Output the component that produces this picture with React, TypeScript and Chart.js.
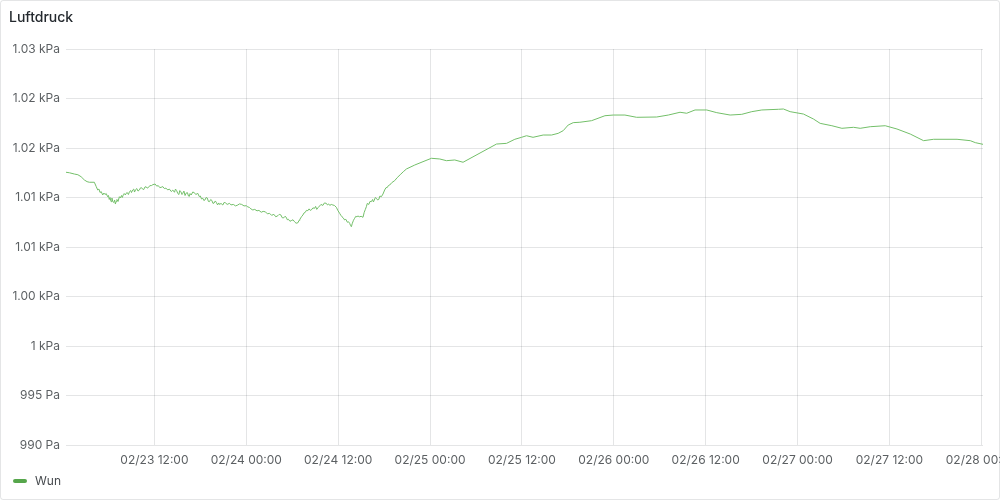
import React, { useEffect, useRef } from "react";
import { Chart, registerables } from "chart.js";

Chart.register(...registerables);

// [hours since 02/23 00:00, pressure in hPa]
const readings: [number, number][] = [
  [0.45, 1017.55], [0.9, 1017.5], [1.54, 1017.37], [2.0, 1017.3], [2.42, 1017.1], [2.85, 1016.77], [3.2, 1016.6], [3.5, 1016.54],
  [4.15, 1016.54], [4.4, 1016.1], [4.59, 1015.76], [4.75, 1015.85], [4.9, 1015.5], [5.05, 1015.6], [5.24, 1015.25], [5.4, 1015.45],
  [5.55, 1015.3], [5.7, 1015.4], [5.89, 1015.08], [6.0, 1015.2], [6.1, 1014.8], [6.2, 1015.0], [6.34, 1014.58], [6.45, 1014.95],
  [6.55, 1014.6], [6.7, 1014.5], [6.8, 1014.75], [6.9, 1014.34], [7.0, 1014.6], [7.1, 1014.8], [7.25, 1014.6], [7.42, 1015.08],
  [7.55, 1014.95], [7.7, 1015.2], [7.8, 1015.0], [7.95, 1015.3], [8.05, 1015.4], [8.2, 1015.25], [8.3, 1015.42], [8.45, 1015.5],
  [8.6, 1015.3], [8.75, 1015.6], [8.9, 1015.7], [9.0, 1015.5], [9.16, 1015.76], [9.3, 1015.85], [9.4, 1015.55], [9.55, 1015.8],
  [9.7, 1015.9], [9.85, 1015.65], [10.04, 1015.76], [10.15, 1015.95], [10.3, 1016.0], [10.45, 1015.85], [10.6, 1015.8], [10.75, 1016.05],
  [10.91, 1016.09], [11.05, 1015.95], [11.2, 1016.0], [11.4, 1016.2], [11.6, 1016.2], [11.8, 1016.3], [12.09, 1016.36], [12.3, 1016.15],
  [12.5, 1016.2], [12.7, 1016.0], [12.88, 1016.03], [13.1, 1016.1], [13.3, 1015.9], [13.5, 1015.95], [13.74, 1015.76], [13.95, 1015.85],
  [14.2, 1015.6], [14.4, 1015.75], [14.62, 1015.53], [14.75, 1015.85], [14.9, 1015.7], [15.05, 1015.4], [15.2, 1015.3], [15.3, 1015.7],
  [15.45, 1015.6], [15.6, 1015.3], [15.7, 1015.42], [15.85, 1015.65], [16.0, 1015.2], [16.15, 1015.45], [16.3, 1015.5], [16.45, 1015.15],
  [16.55, 1015.1], [16.65, 1015.4], [16.8, 1015.25], [17.0, 1015.55], [17.2, 1015.5], [17.4, 1015.3], [17.66, 1015.42], [17.85, 1015.1],
  [18.0, 1015.15], [18.15, 1014.85], [18.32, 1014.92], [18.45, 1014.7], [18.6, 1014.75], [18.75, 1015.0], [18.9, 1014.95], [19.05, 1014.6],
  [19.19, 1014.58], [19.35, 1014.8], [19.5, 1014.7], [19.65, 1014.4], [19.8, 1014.45], [19.95, 1014.65], [20.07, 1014.52], [20.25, 1014.25],
  [20.4, 1014.45], [20.5, 1014.3], [20.7, 1014.4], [20.93, 1014.24], [21.1, 1014.5], [21.3, 1014.45], [21.5, 1014.3], [21.81, 1014.41],
  [22.0, 1014.25], [22.3, 1014.3], [22.6, 1014.15], [22.89, 1014.24], [23.1, 1014.35], [23.4, 1014.3], [23.7, 1014.15], [23.99, 1014.17],
  [24.2, 1014.05], [24.4, 1014.0], [24.6, 1013.85], [24.85, 1013.74], [25.1, 1013.8], [25.4, 1013.65], [25.65, 1013.7], [25.95, 1013.51],
  [26.2, 1013.6], [26.5, 1013.55], [26.75, 1013.35], [27.04, 1013.4], [27.3, 1013.2], [27.6, 1013.3], [27.85, 1013.05], [28.12, 1013.16],
  [28.3, 1013.3], [28.5, 1013.25], [28.7, 1012.95], [28.9, 1012.95], [29.05, 1013.1], [29.22, 1013.0], [29.35, 1012.75], [29.5, 1012.8],
  [29.7, 1012.6], [29.87, 1012.66], [30.1, 1012.75], [30.3, 1012.55], [30.5, 1012.4], [30.74, 1012.45], [30.9, 1012.7], [31.0, 1012.8],
  [31.2, 1013.05], [31.39, 1013.23], [31.55, 1013.45], [31.7, 1013.5], [31.85, 1013.7], [32.04, 1013.67], [32.2, 1013.85], [32.35, 1013.7],
  [32.5, 1013.75], [32.7, 1013.95], [32.92, 1013.91], [33.05, 1014.1], [33.2, 1013.8], [33.4, 1014.0], [33.57, 1014.14], [33.75, 1014.3],
  [34.0, 1014.2], [34.2, 1014.45], [34.45, 1014.41], [34.6, 1014.25], [34.75, 1014.35], [34.9, 1014.2], [35.1, 1014.3], [35.31, 1014.24],
  [35.5, 1014.2], [35.76, 1014.01], [35.95, 1013.7], [36.19, 1013.4], [36.35, 1013.2], [36.5, 1013.05], [36.65, 1012.95], [36.84, 1012.73],
  [37.0, 1012.8], [37.2, 1012.5], [37.35, 1012.55], [37.5, 1012.39], [37.6, 1012.2], [37.72, 1012.05], [37.85, 1012.4], [38.0, 1012.7],
  [38.15, 1012.9], [38.3, 1013.1], [38.45, 1013.05], [38.58, 1013.13], [38.8, 1013.05], [39.0, 1013.1], [39.24, 1013.0], [39.4, 1013.5],
  [39.55, 1013.8], [39.68, 1014.07], [39.8, 1014.4], [40.0, 1014.3], [40.15, 1014.6], [40.33, 1014.58], [40.5, 1014.8], [40.6, 1014.55],
  [40.7, 1014.7], [40.85, 1015.0], [40.99, 1014.92], [41.15, 1014.75], [41.3, 1014.8], [41.45, 1015.15], [41.64, 1015.08], [41.85, 1015.35],
  [42.07, 1015.76], [42.25, 1016.0], [42.4, 1016.0], [42.55, 1016.2], [42.73, 1016.26], [43.0, 1016.5], [43.38, 1016.7], [43.7, 1017.0],
  [44.1, 1017.3], [44.5, 1017.6], [44.91, 1017.88], [46.0, 1018.28], [47.08, 1018.62], [48.18, 1018.96], [49.27, 1018.89], [50.14, 1018.72],
  [51.23, 1018.79], [52.31, 1018.56], [56.68, 1020.4], [57.99, 1020.47], [59.07, 1020.88], [59.95, 1021.08], [60.6, 1021.24], [61.45, 1021.08],
  [62.77, 1021.31], [63.87, 1021.31], [64.73, 1021.48], [65.39, 1021.75], [66.04, 1022.32], [66.7, 1022.56], [67.57, 1022.6], [69.1, 1022.76],
  [70.84, 1023.26], [71.92, 1023.33], [73.45, 1023.33], [74.98, 1023.1], [77.6, 1023.13], [79.12, 1023.33], [80.65, 1023.61], [81.52, 1023.51],
  [82.61, 1023.84], [84.14, 1023.84], [85.45, 1023.57], [87.19, 1023.33], [88.71, 1023.4], [90.02, 1023.67], [91.33, 1023.84], [93.5, 1023.91],
  [94.15, 1023.94], [95.03, 1023.67], [96.77, 1023.43], [98.07, 1022.93], [98.95, 1022.49], [100.48, 1022.25], [101.79, 1021.99], [103.31, 1022.09],
  [104.18, 1021.99], [105.49, 1022.15], [107.45, 1022.25], [108.98, 1021.92], [110.72, 1021.41], [112.46, 1020.74], [113.77, 1020.88], [116.83, 1020.88],
  [118.56, 1020.74], [119.22, 1020.54], [120.22, 1020.37],
];

const xTickHours: number[] = [12, 24, 36, 48, 60, 72, 84, 96, 108, 120];
const xTickLabels: string[] = [
  "02/23 12:00", "02/24 00:00", "02/24 12:00", "02/25 00:00", "02/25 12:00",
  "02/26 00:00", "02/26 12:00", "02/27 00:00", "02/27 12:00", "02/28 00:00",
];

const yTickValues: number[] = [990, 995, 1000, 1005, 1010, 1015, 1020, 1025, 1030];
const yTickLabels: string[] = [
  "990 Pa", "995 Pa", "1 kPa", "1.00 kPa", "1.01 kPa", "1.01 kPa", "1.02 kPa", "1.02 kPa", "1.03 kPa",
];

const seriesName = "Wun";
const title = "Luftdruck";
const lineColor = "#73BF69";
const swatchColor = "#56A64B";

export default function App() {
  const canvasRef = useRef<HTMLCanvasElement | null>(null);

  useEffect(() => {
    document.body.style.margin = "0";
    const canvas = canvasRef.current;
    if (!canvas) return;
    Chart.defaults.font.family = "Inter, 'Noto Sans', sans-serif";
    const chart = new Chart(canvas, {
      type: "line",
      data: {
        datasets: [
          {
            label: seriesName,
            data: readings.map(([h, v]) => ({ x: h, y: v })),
            borderColor: lineColor,
            borderWidth: 1,
            pointRadius: 0,
            tension: 0,
            fill: false,
          },
        ],
      },
      options: {
        animation: false,
        responsive: false,
        events: [],
        layout: { padding: { left: 0, top: 49, right: 57, bottom: 25 } },
        plugins: { legend: { display: false }, tooltip: { enabled: false }, title: { display: false } },
        scales: {
          x: {
            type: "linear",
            min: readings[0][0],
            max: readings[readings.length - 1][0],
            afterFit: (s: any) => { s.height = 30; },
            afterBuildTicks: (s: any) => { s.ticks = xTickHours.map((v) => ({ value: v })); },
            grid: { color: "rgba(36,41,46,0.12)", drawTicks: false },
            border: { display: false },
            ticks: {
              autoSkip: false,
              maxRotation: 0,
              padding: 8,
              color: "rgba(36,41,46,0.75)",
              font: { size: 12 },
              callback: (v: any) => {
                const i = xTickHours.indexOf(Number(v));
                return i >= 0 ? xTickLabels[i] : "";
              },
            },
          },
          y: {
            min: 990,
            max: 1030,
            afterFit: (s: any) => { s.width = 66; },
            afterBuildTicks: (s: any) => { s.ticks = yTickValues.map((v) => ({ value: v })); },
            grid: { color: "rgba(36,41,46,0.12)", drawTicks: false },
            border: { display: false },
            ticks: {
              padding: 6,
              color: "rgba(36,41,46,0.75)",
              font: { size: 12 },
              callback: (v: any) => {
                const i = yTickValues.indexOf(Number(v));
                return i >= 0 ? yTickLabels[i] : "";
              },
            },
          },
        },
      },
    });
    return () => chart.destroy();
  }, []);

  return (
    <div style={{ position: "relative", width: 1000, height: 500, overflow: "hidden", background: "#fff", fontFamily: "Inter, 'Noto Sans', sans-serif" }}>
      <canvas ref={canvasRef} width={1040} height={500} style={{ position: "absolute", left: 0, top: 0, width: 1040, height: 500 }} />
      <div style={{ position: "absolute", left: 9, top: 7, fontSize: 14, fontWeight: 500, color: "rgb(36,41,46)", lineHeight: "20px" }}>{title}</div>
      <div style={{ position: "absolute", left: 13, top: 472, display: "flex", alignItems: "center", fontSize: 12, color: "rgba(36,41,46,0.85)", lineHeight: "18px" }}>
        <span style={{ display: "inline-block", width: 14, height: 4, borderRadius: 2, background: swatchColor, marginRight: 8 }} />
        <span>{seriesName}</span>
      </div>
      <div style={{ position: "absolute", inset: 0, border: "1px solid rgba(36,41,46,0.12)", borderRadius: 3, boxSizing: "border-box", pointerEvents: "none" }} />
    </div>
  );
}
